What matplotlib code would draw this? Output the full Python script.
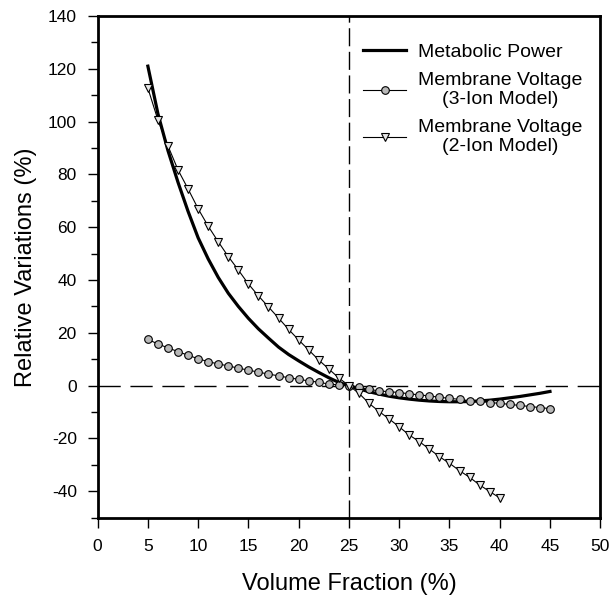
import matplotlib
matplotlib.use("Agg")
import matplotlib.pyplot as plt
from matplotlib.ticker import MultipleLocator

plt.rcParams['font.family'] = ['Liberation Sans', 'DejaVu Sans']
plt.rcParams['axes.unicode_minus'] = False

# Metabolic power (solid curve)
mp_x = list(range(5, 46))
mp_y = [121, 103, 89, 77, 66, 56, 48, 41, 35, 30, 25.5, 21.5, 18, 14.6, 11.8,
        9.4, 7.1, 5.0, 3.0, 1.2, 0, -1.2, -2.3, -3.2, -4.0, -4.6, -5.1, -5.5,
        -5.8, -6.0, -6.1, -6.1, -6.0, -5.8, -5.5, -5.1, -4.6, -4.1, -3.5, -2.9, -2.2]

# Membrane voltage, 3-ion model (circles)
v3_x = list(range(5, 46))
v3_y = [17.5, 15.8, 14.3, 12.9, 11.5, 10.2, 9.1, 8.2, 7.5, 6.6, 5.9, 5.1, 4.4,
        3.7, 3.0, 2.4, 1.8, 1.3, 0.6, 0.3, 0, -0.6, -1.4, -2.0, -2.3, -2.6, -3.1,
        -3.5, -3.9, -4.4, -4.8, -5.2, -5.7, -6.0, -6.4, -6.7, -7.1, -7.5, -7.9,
        -8.3, -8.7]

# Membrane voltage, 2-ion model (triangles)
v2_x = list(range(5, 41))
v2_y = [112.7, 100.6, 90.8, 81.7, 74.5, 67, 60.4, 54.5, 48.9, 43.8, 38.5, 34,
        29.8, 25.6, 21.3, 17.3, 13.5, 9.7, 6.3, 2.9, 0, -2.9, -6.7, -9.8, -12.6,
        -15.6, -18.7, -21.2, -24, -26.9, -29.4, -32.2, -34.7, -37.6, -40.1, -42.5]

x_ticks = list(range(0, 51, 5))
y_ticks = list(range(-40, 141, 20))

fig = plt.figure(figsize=(6.10, 6.03), dpi=100)
ax = fig.add_axes([0.160, 0.1415, 0.824, 0.832])

ax.axhline(0, color='black', lw=1.0, dashes=(16, 7), zorder=1)
ax.axvline(25, color='black', lw=1.0, dashes=(13, 4), zorder=1)

ax.plot(mp_x, mp_y, color='black', lw=2.3, label='Metabolic Power', zorder=3)
ax.plot(v3_x, v3_y, color='black', lw=0.8, marker='o', markersize=5.5,
        markerfacecolor='#b8b8b8', markeredgecolor='black', markeredgewidth=0.8,
        label='Membrane Voltage\n(3-Ion Model)', zorder=4)
ax.plot(v2_x, v2_y, color='black', lw=0.8, marker='v', markersize=6,
        markerfacecolor='#e6e6e6', markeredgecolor='black', markeredgewidth=0.8,
        label='Membrane Voltage\n(2-Ion Model)', zorder=4)

ax.set_xlim(0, 50)
ax.set_ylim(-50, 140)
ax.set_xticks(x_ticks)
ax.set_yticks(y_ticks)
ax.yaxis.set_minor_locator(MultipleLocator(10))
ax.tick_params(axis='both', which='major', direction='out', length=7, width=1.0,
               labelsize=12.5, pad=8)
ax.tick_params(axis='y', which='minor', direction='out', length=5, width=1.0)
for s in ax.spines.values():
    s.set_linewidth(2.0)

ax.set_xlabel('Volume Fraction (%)', fontsize=17, labelpad=14)
ax.set_ylabel('Relative Variations (%)', fontsize=17, labelpad=8)

leg = ax.legend(loc='upper right', bbox_to_anchor=(1.018, 1.0), frameon=False,
                fontsize=14, handlelength=2.2, labelspacing=0.55,
                borderaxespad=1.0, handletextpad=0.6)
for t in leg.get_texts():
    t.set_multialignment('center')

fig.savefig('out.png', dpi=100)
